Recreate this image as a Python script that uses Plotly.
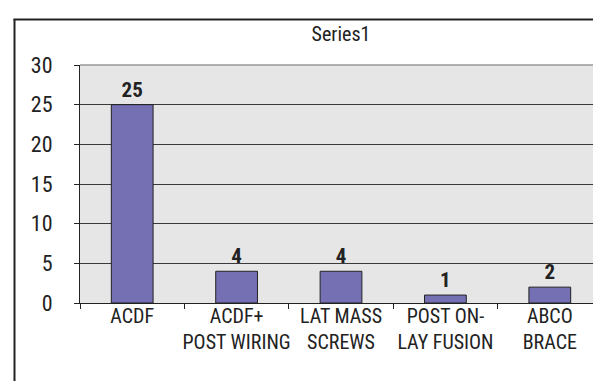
import plotly.graph_objects as go

categories = ["ACDF", "ACDF+<br>POST WIRING", "LAT MASS<br>SCREWS", "POST ON-<br>LAY FUSION", "ABCO<br>BRACE"]
values = [25, 4, 4, 1, 2]
series_name = "Series1"
y_ticks = [0, 5, 10, 15, 20, 25, 30]

FONT = "Liberation Sans Narrow, Arial Narrow, Roboto Condensed, Liberation Sans, sans-serif"
W, H = 601, 381
L, R, T, B = 72, 7, 57, 86
pw, ph = W - L - R, H - T - B

def px(x):
    return (x - L) / pw

def py(y):
    return 1 - (y - T) / ph

fig = go.Figure()
fig.add_trace(go.Bar(
    x=categories, y=values, name=series_name,
    width=0.4,
    marker=dict(color="#7570b3", line=dict(color="#222222", width=1)),
    text=[str(v) for v in values], textposition="outside",
    textfont=dict(family=FONT, size=21, color="#222222", weight="bold"),
    cliponaxis=False,
))

fig.update_layout(
    width=W, height=H,
    margin=dict(l=L, r=R, t=T, b=B, pad=0),
    paper_bgcolor="white", plot_bgcolor="#e6e6e7",
    showlegend=False,
    font=dict(family=FONT, size=20, color="#222222"),
    title=dict(text=series_name, x=px(333), xref="paper", xanchor="center",
               y=1 - 26 / H, yanchor="middle",
               font=dict(family=FONT, size=20, color="#222222")),
    bargap=0.6,
    xaxis=dict(
        type="category", tickson="boundaries", ticks="outside", ticklen=5,
        tickcolor="#222222", showline=True, linecolor="#222222", linewidth=1,
        showgrid=False, tickfont=dict(family=FONT, size=20, color="#222222"),
        mirror=False, ticklabelstandoff=-5, tickangle=0, automargin=False,
    ),
    yaxis=dict(
        range=[0, 30], tickvals=y_ticks, ticks="outside", ticklen=5,
        tickcolor="#222222", showline=True, linecolor="#222222", linewidth=1,
        showgrid=True, gridcolor="#3a3a3a", gridwidth=1.2,
        zeroline=False, automargin=False,
        tickfont=dict(family=FONT, size=22, color="#222222"),
        ticklabelstandoff=17,
    ),
    shapes=[
        # plot area gray border (top & right)
        dict(type="line", xref="paper", yref="paper", x0=0, x1=1, y0=1, y1=1,
             line=dict(color="#999999", width=1.5)),
        dict(type="line", xref="paper", yref="paper", x0=1, x1=1, y0=0, y1=1,
             line=dict(color="#999999", width=1.5)),
        # outer frame
        dict(type="line", xref="paper", yref="paper", x0=px(6.5), x1=px(6.5),
             y0=py(11), y1=py(390), line=dict(color="#222222", width=2)),
        dict(type="line", xref="paper", yref="paper", x0=px(5.5), x1=px(610),
             y0=py(11.5), y1=py(11.5), line=dict(color="#222222", width=2)),
    ],
)

fig.write_html("out.html")
